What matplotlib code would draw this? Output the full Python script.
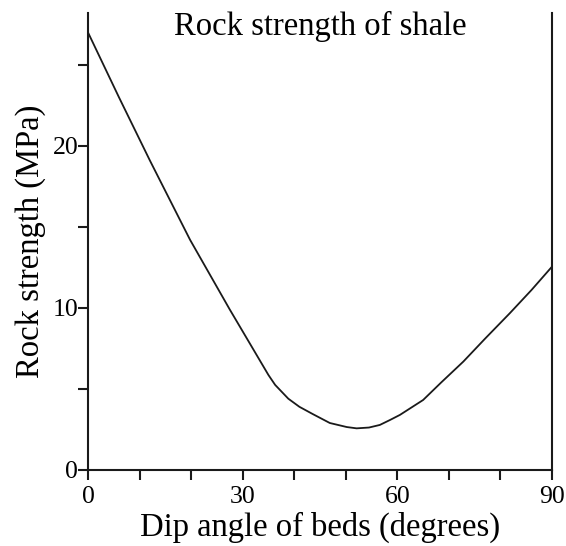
import matplotlib
matplotlib.use("Agg")
import matplotlib.pyplot as plt
from matplotlib.ticker import MultipleLocator

# --- data ---
dip_deg = [0.0, 6.0, 12.0, 19.8, 27.5, 31.4, 35.0, 36.3, 38.85, 41.0,
           43.6, 46.9, 50.2, 52.1, 54.5, 56.6, 58.6, 60.5, 65.0, 68.5,
           72.8, 77.0, 81.8, 86.0, 90.0]
strength_mpa = [27.0, 23.0, 19.1, 14.2, 9.9, 7.8, 5.86, 5.25, 4.4, 3.9,
                3.45, 2.9, 2.65, 2.57, 2.62, 2.78, 3.09, 3.4, 4.32, 5.4,
                6.69, 8.1, 9.67, 11.1, 12.55]

x_major = [0, 30, 60, 90]
y_major = [0, 10, 20]

TickSize = 18.5
LabelSize = 23.5

plt.rcParams['font.family'] = ['Liberation Serif', 'DejaVu Serif']

fig = plt.figure(figsize=(5.66, 5.46), dpi=100)
ax = fig.add_axes([0.1555, 0.1392, 0.8198, 0.837])

ax.plot(dip_deg, strength_mpa, color='#1a1a1a', lw=1.3,
        solid_joinstyle='round', solid_capstyle='round')

ax.set_xlim(0, 90)
ax.set_ylim(0, 28.2)

ax.set_xticks(x_major)
ax.set_yticks(y_major)
ax.xaxis.set_minor_locator(MultipleLocator(10))
ax.yaxis.set_minor_locator(MultipleLocator(5))

ax.spines['top'].set_visible(False)
for s in ['left', 'right', 'bottom']:
    ax.spines[s].set_linewidth(1.5)
    ax.spines[s].set_color('#1a1a1a')

ax.tick_params(which='both', direction='out', length=7, width=1.5,
               color='#1a1a1a', labelsize=TickSize, top=False, right=False)
ax.tick_params(axis='x', pad=4.5)
ax.tick_params(axis='y', pad=0)

ax.set_xlabel('Dip angle of beds (degrees)', fontsize=LabelSize, labelpad=3)
ax.set_ylabel('Rock strength (MPa)', fontsize=LabelSize, labelpad=5)

ax.text(0.5, 1.005, 'Rock strength of shale', transform=ax.transAxes,
        ha='center', va='top', fontsize=LabelSize)

fig.savefig('out.png', dpi=100)
plt.close()
